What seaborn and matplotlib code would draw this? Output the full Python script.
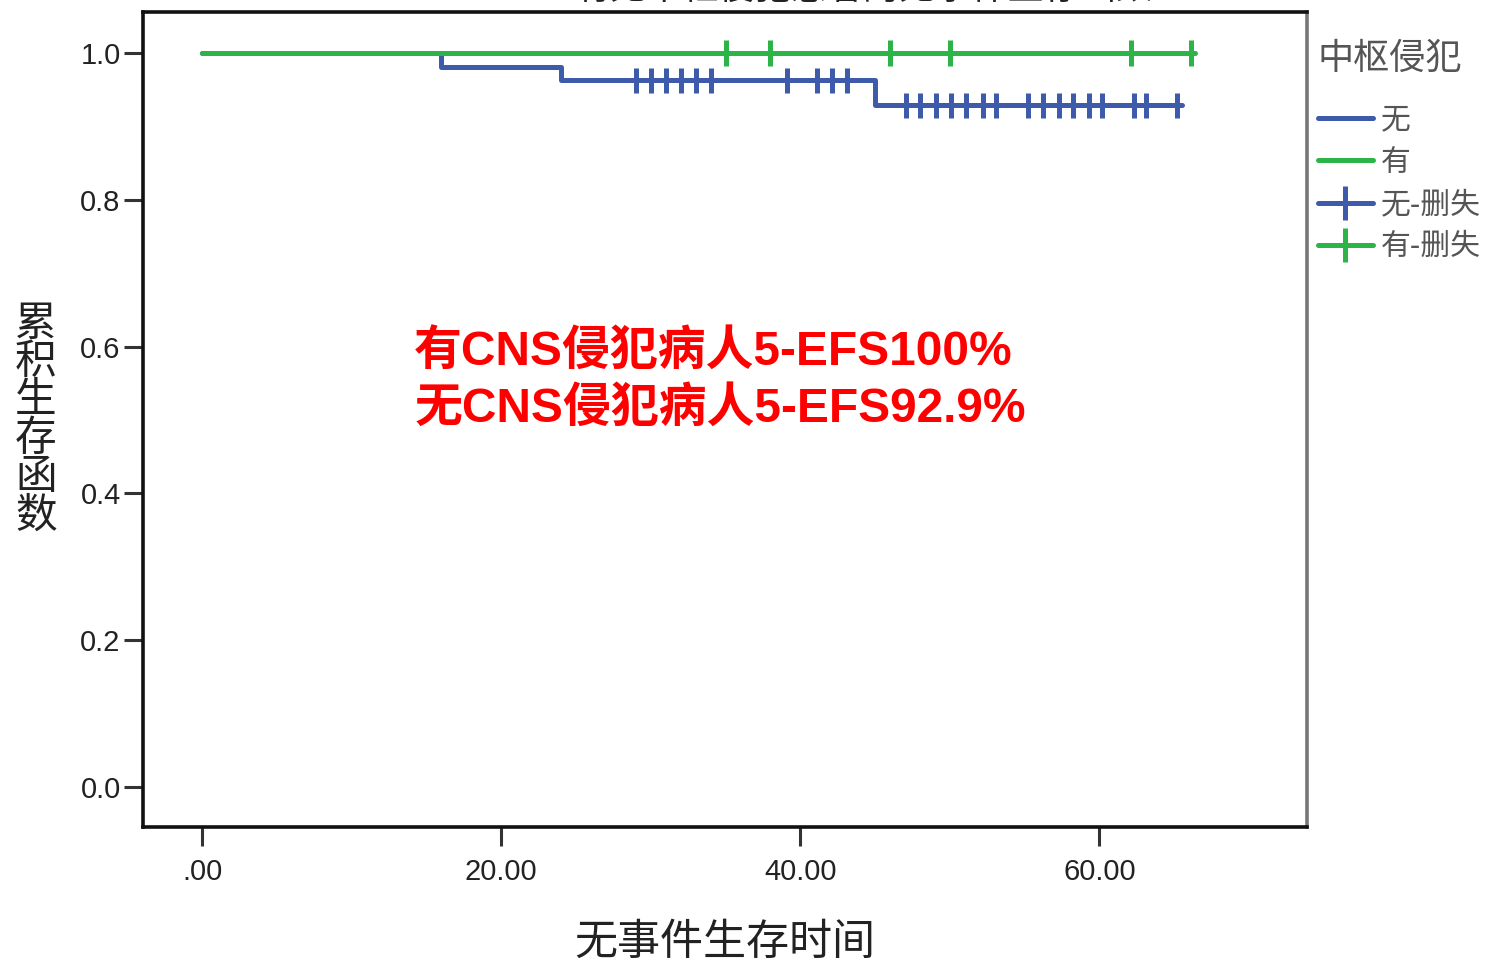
import pandas as pd
import matplotlib
matplotlib.use("Agg")
import matplotlib.pyplot as plt
from matplotlib.lines import Line2D
import seaborn as sns

# survival steps (time, cumulative survival)
blue_time = [0, 16.0, 24.0, 45.0, 65.5]
blue_surv = [1.0, 0.981, 0.963, 0.929, 0.929]
green_time = [0, 66.4]
green_surv = [1.0, 1.0]

# censored observations
blue_cens_time = [29, 30, 31, 32, 33, 34, 39.1, 41.1, 42.1, 43.1,
                  47.1, 48, 49.1, 50.1, 51.1, 52.2, 53.1, 55.2, 56.2, 57.3,
                  58.2, 59.3, 60.2, 62.3, 63.1, 65.2]
blue_cens_surv = [0.963] * 10 + [0.929] * 16
green_cens_time = [35.0, 38.0, 46.0, 50.0, 62.1, 66.1]
green_cens_surv = [1.0] * 6

x_ticks = [0, 20, 40, 60]
x_tick_labels = [".00", "20.00", "40.00", "60.00"]
y_ticks = [0.0, 0.2, 0.4, 0.6, 0.8, 1.0]

BLUE = "#3e5aab"
GREEN = "#2db448"

sns.set_style("white")
plt.rcParams['font.family'] = ['Noto Sans CJK SC', 'DejaVu Sans']

steps = pd.concat([
    pd.DataFrame({"time": blue_time, "surv": blue_surv, "grp": "无"}),
    pd.DataFrame({"time": green_time, "surv": green_surv, "grp": "有"}),
])
cens = pd.concat([
    pd.DataFrame({"time": blue_cens_time, "surv": blue_cens_surv, "grp": "无"}),
    pd.DataFrame({"time": green_cens_time, "surv": green_cens_surv, "grp": "有"}),
])
pal = {"无": BLUE, "有": GREEN}

fig = plt.figure(figsize=(14.89, 9.66), dpi=100)
ax = fig.add_axes([0.096, 0.1439, 0.782, 0.8437])

sns.lineplot(data=steps, x="time", y="surv", hue="grp", palette=pal,
             estimator=None, drawstyle="steps-post", linewidth=3.6,
             legend=False, ax=ax)
sns.scatterplot(data=cens, x="time", y="surv", hue="grp", palette=pal,
                marker="|", s=330, linewidth=3.6, legend=False, ax=ax, zorder=3)

ax.set_xlim(-3.95, 73.9)
ax.set_ylim(-0.0545, 1.056)
ax.set_xticks(x_ticks)
ax.set_xticklabels(x_tick_labels, family="Liberation Sans")
ax.set_yticks(y_ticks)
ax.set_yticklabels([f"{v:.1f}" for v in y_ticks], family="Liberation Sans")
ax.tick_params(axis="both", length=14, width=2.2, color="#333333",
               labelsize=21, labelcolor="#222222", direction="out", left=True, bottom=True)
ax.tick_params(axis="x", pad=8)
ax.tick_params(axis="y", pad=2)
for s in ax.spines.values():
    s.set_color("#111111")
    s.set_linewidth(2.6)
ax.spines["right"].set_color("#777777")
ax.set_xlabel("")
ax.set_ylabel("")

fig.text(0.487, 0.024, "无事件生存时间", ha="center", va="center", fontsize=31, color="#222222")
fig.text(0.024, 0.565, "\n".join("累积生存函数"), ha="center", va="center",
         fontsize=30, color="#222222", linespacing=0.92)
# title sits mostly above the canvas, as in the source image
fig.text(0.58, 1.012, "有无中枢侵犯患者的无事件生存函数", ha="center", va="center",
         fontsize=26, color="#222222")

ax.text(0.233, 0.547, "有CNS侵犯病人5-EFS100%\n无CNS侵犯病人5-EFS92.9%",
        transform=ax.transAxes, ha="left", va="center", color="#ff0000",
        family=["Liberation Sans", "Noto Sans CJK SC"],
        fontsize=34.5, fontweight="bold", linespacing=1.3)

handles = [
    Line2D([], [], color=BLUE, lw=3.6),
    Line2D([], [], color=GREEN, lw=3.6),
    Line2D([], [], color=BLUE, lw=3.6, marker="|", markersize=24, markeredgewidth=3.6),
    Line2D([], [], color=GREEN, lw=3.6, marker="|", markersize=24, markeredgewidth=3.6),
]
leg = fig.legend(handles, ["无", "有", "无-删失", "有-删失"], title="中枢侵犯",
                 loc="upper left", bbox_to_anchor=(0.885, 0.958), frameon=False,
                 fontsize=21.5, title_fontsize=26, handlelength=1.85, handletextpad=0.25,
                 labelspacing=0.38, borderaxespad=0, borderpad=0, alignment="left")
leg._legend_box.sep = 20
for t in leg.get_texts():
    t.set_color("#555555")
leg.get_title().set_color("#555555")

fig.savefig("out.png", dpi=100)
